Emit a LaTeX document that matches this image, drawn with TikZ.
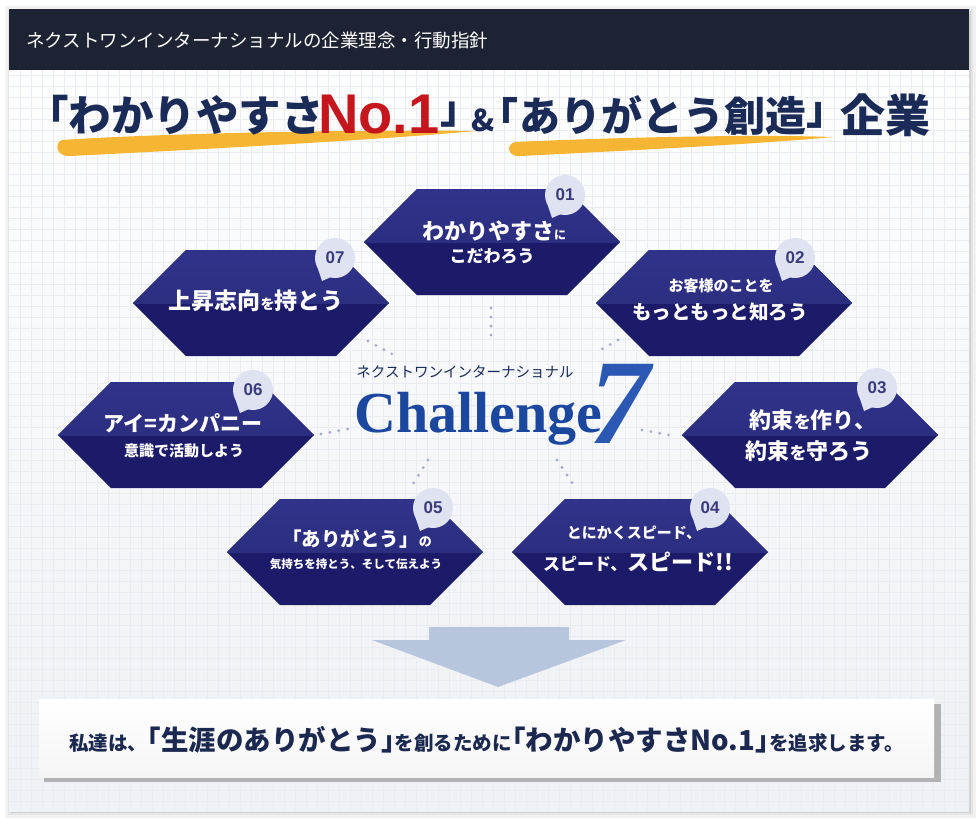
\documentclass[tikz,border=0pt]{standalone}
\usepackage{fontspec}
\setmainfont{Liberation Serif}
\newfontfamily\jp{Noto Sans CJK JP}
\newfontfamily\lsans{Liberation Sans}
\usetikzlibrary{shapes.symbols,calc}
\definecolor{headc}{HTML}{1E2333}
\definecolor{titlec}{HTML}{1A2B58}
\definecolor{redc}{HTML}{C4161C}
\definecolor{yellowc}{HTML}{F6B533}
\definecolor{hextop}{HTML}{30338A}
\definecolor{hexmid}{HTML}{282976}
\definecolor{hexbot}{HTML}{1C1B69}
\definecolor{badgec}{HTML}{DFE3F1}
\definecolor{badget}{HTML}{3A3B7C}
\definecolor{dotc}{HTML}{A7AFC8}
\definecolor{arrowc}{HTML}{B7C5DD}
\definecolor{msgc}{HTML}{1B2850}
\definecolor{chalc}{HTML}{1B479F}
\definecolor{sevenc}{HTML}{2A58B3}
\definecolor{panelbot}{HTML}{EEF1F5}
\definecolor{gridc}{HTML}{E9EDF2}
\newcommand{\fsz}[1]{\fontsize{#1}{#1}\selectfont}
\newcommand{\jlq}{\makebox[0.5em][r]{「}}
\newcommand{\jrq}{\makebox[0.5em][l]{」}}
\begin{document}
\begin{tikzpicture}[x=1pt,y=-1pt,
  hexbox/.style={signal, signal to=east and west, signal pointer angle=90,
    minimum width=256, minimum height=106, inner sep=0pt, fill=hexbot,
    path picture={\shade[top color=hextop,bottom color=hexmid]
      (path picture bounding box.north west) rectangle (path picture bounding box.east);}},
  ht/.style={text=white, inner sep=0pt, font=\jp\bfseries},
  badge/.style={circle, fill=badgec, minimum size=40, inner sep=0pt, text=badget, font=\lsans\bfseries\fsz{17}},
  dotline/.style={dotc, line width=3.2pt, line cap=round, dash pattern=on 0pt off 9pt},
  ttl/.style={inner sep=0pt, text=titlec, font=\jp\bfseries}]
\useasboundingbox (0,0) rectangle (980,820);
% page and panel
\fill[white] (0,0) rectangle (980,820);
\fill[black!5] (5,6) rectangle (976,818);
\fill[black!10] (8,9) rectangle (973,815);
\fill[black!18] (10,11) rectangle (971,813);
\shade[top color=white,bottom color=panelbot] (9,9) rectangle (969,811);
\foreach \gx in {20,31,...,965}{\draw[gridc, line width=0.4pt] (\gx,70) -- (\gx,811);}
\foreach \gy in {75,86,...,810}{\draw[gridc, line width=0.4pt] (9,\gy) -- (969,\gy);}
% header
\fill[headc] (9,9) rectangle (969,70);
\node[anchor=west, inner sep=0pt, text=white, font=\jp\fsz{18.5}] (hdr) at (26,40) {ネクストワンインターナショナルの企業理念・行動指針};
% title brush strokes
\fill[yellowc] (62,140) .. controls (150,134) and (350,129) .. (476,131)
  .. controls (400,138) and (250,147) .. (70,156) .. controls (56,157) and (54,143) .. (62,140) -- cycle;
\fill[yellowc] (515,142) .. controls (600,138) and (750,134) .. (833,137)
  .. controls (760,144) and (620,151) .. (520,156) .. controls (507,157) and (506,144) .. (515,142) -- cycle;
% title
\node[ttl, anchor=east, font=\jp\bfseries\fsz{42.5}] (t1) at (324,115) {\jlq わかりやすさ};
\node[inner sep=0pt, anchor=west, text=redc, font=\lsans\bfseries\fsz{56}] (t2) at (318,115) {No.1};
\node[ttl, anchor=west, font=\jp\bfseries\fsz{40}] (t3) at (440,115) {\jrq};
\node[ttl, font=\jp\bfseries\fsz{30}] (t4) at (483,120) {\&};
\node[ttl, anchor=east, font=\jp\bfseries\fsz{41}] (t5a) at (519,115) {\jlq};
\node[ttl, anchor=west, font=\jp\bfseries\fsz{41}] (t5) at (519,115) {ありがとう創造};
\node[ttl, anchor=west, font=\jp\bfseries\fsz{41}] (t5c) at (806,115) {\jrq};
\node[ttl, font=\jp\bfseries\fsz{45}] (t6) at (885,115) {企業};
% hexagons
\node[hexbox] (h1) at (492,242) {};
\node[hexbox] (h2) at (724,303) {};
\node[hexbox] (h3) at (810,435) {};
\node[hexbox] (h4) at (640,552) {};
\node[hexbox] (h5) at (355,552) {};
\node[hexbox] (h6) at (186,435) {};
\node[hexbox] (h7) at (261,303) {};
% hex texts
\node[ht] at ($(h1)+(2,-11)$) {\fsz{22}わかりやすさ\fsz{12}に};
\node[ht] at ($(h1)+(0,14)$) {\fsz{17}こだわろう};
\node[ht] at ($(h7)+(-5,-2)$) {\fsz{23}上昇志向\fsz{14}を\fsz{23}持とう};
\node[ht] at ($(h2)+(-3,-17)$) {\fsz{15}お客様のことを};
\node[ht] at ($(h2)+(-4,9)$) {\fsz{19.5}もっともっと知ろう};
\node[ht] at ($(h6)+(-3,-12)$) {\fsz{21}アイ=カンパニー};
\node[ht] at ($(h6)+(-2,16)$) {\fsz{15}意識で活動しよう};
\node[ht] at ($(h3)+(3,-15)$) {\fsz{22}約束\fsz{17}を\fsz{22}作り、};
\node[ht] at ($(h3)+(-1,16)$) {\fsz{22}約束\fsz{17}を\fsz{22}守ろう};
\node[ht] at ($(h5)+(2,-13)$) {\fsz{19.5}「ありがとう」\fsz{13}の};
\node[ht] at ($(h5)+(1,12)$) {\fsz{11.5}気持ちを持とう、そして伝えよう};
\node[ht] at ($(h4)+(-6,-19)$) {\fsz{15}とにかくスピード、};
\node[ht] at ($(h4)+(-2,10)$) {\fsz{17}スピード、\fsz{22}スピード!!};
% badges
\foreach \h/\n/\dx/\dy in {h1/01/73/-47, h2/02/71/-45, h3/03/67/-47, h4/04/70/-44, h5/05/78/-44, h6/06/67/-45, h7/07/74/-45}{
  \fill[badgec] ($(\h)+(\dx,\dy)+(-18,8)$) -- ($(\h)+(\dx,\dy)+(-13,23)$) -- ($(\h)+(\dx,\dy)+(-4,19)$) -- cycle;
  \node[badge] (b\n) at ($(\h)+(\dx,\dy)$) {\n};
}
% center
\node[inner sep=0pt, text=titlec, font=\jp\fsz{14.5}] (cjp) at (465,372) {ネクストワンインターナショナル};
\node[inner sep=0pt, anchor=base west, text=chalc, font=\bfseries\fsz{58}] (chal) at (354,432) {Challenge};
\node[inner sep=0pt, anchor=base west, text=sevenc, font=\bfseries\itshape\fsz{121}] (seven) at (589,443) {7};
% dotted connectors
\coordinate (c1a) at (491,308); \coordinate (c1b) at (491,336);
\coordinate (c7a) at (368,341); \coordinate (c7b) at (392,354);
\coordinate (c2a) at (618,340); \coordinate (c2b) at (595,353);
\coordinate (c6a) at (321,434); \coordinate (c6b) at (348,429);
\coordinate (c3a) at (642,430); \coordinate (c3b) at (669,435);
\coordinate (c5a) at (428,460); \coordinate (c5b) at (413,484);
\coordinate (c4a) at (557,460); \coordinate (c4b) at (573,484);
\foreach \n in {1,2,3,4,5,6,7}{\draw[dotline] (c\n a) -- (c\n b);}
% arrow
\fill[arrowc] (429,627) -- (569,627) -- (569,640) -- (626,640) -- (498,687) -- (372,640) -- (429,640) -- cycle;
% message box
\fill[black!30] (44,704) rectangle (941,782);
\node[minimum width=895, minimum height=78, inner sep=0pt, top color=white, bottom color=black!4] (msg) at (486.5,738) {};
\node[inner sep=0pt, text=msgc, font=\jp\bfseries] (msgt) at (486.5,740)
  {\fsz{19.5}私達は、\fsz{27.5}\jlq 生涯のありがとう\jrq\fsz{19.5}を創るために\fsz{27.5}\jlq わかりやすさNo.1\jrq\fsz{19.5}を追求します。};
\end{tikzpicture}
\end{document}
